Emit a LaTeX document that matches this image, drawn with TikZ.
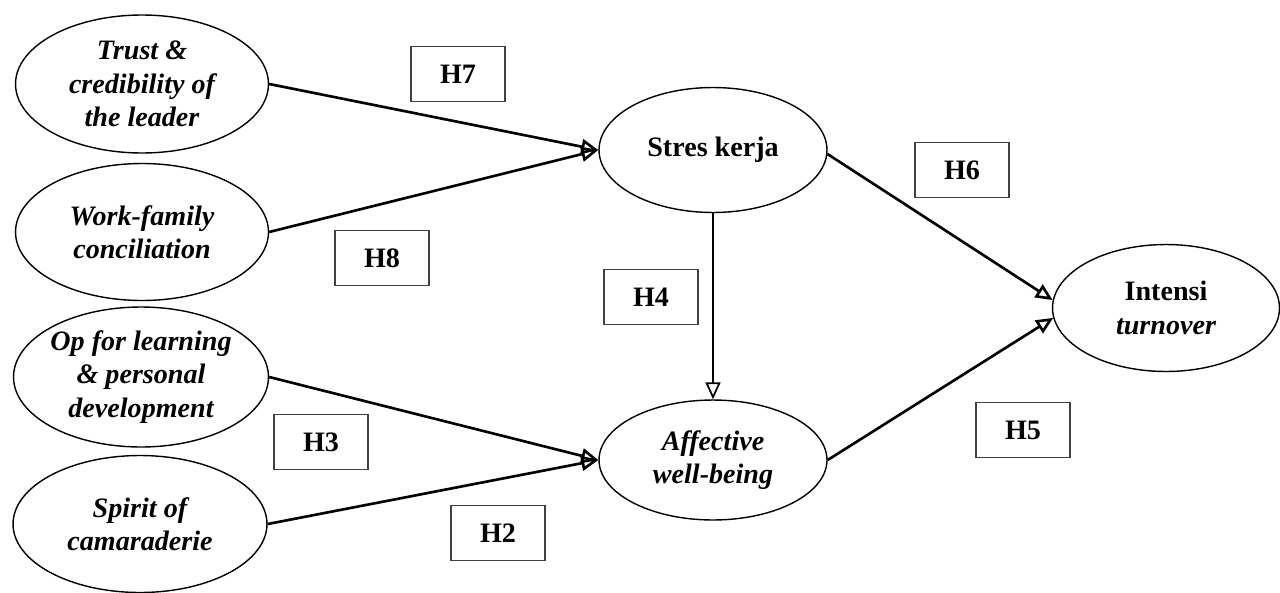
\documentclass[tikz,border=0pt]{standalone}
\usepackage{fontspec}
\setmainfont{Liberation Serif}
\usepackage{tikz}
\usetikzlibrary{arrows.meta,shapes.geometric}

\begin{document}
\begin{tikzpicture}[x=0.02cm, y=-0.02cm,
    every node/.style={font=\fontsize{16}{19}\selectfont\bfseries},
    construct/.style={draw, ellipse, line width=0.8pt, inner xsep=-4pt, inner ysep=0pt, align=center},
    hyp/.style={draw=black!75, line width=1.1pt, minimum width=1.88cm, minimum height=1.1cm},
    path/.style={line width=1.5pt, -{Triangle[open, length=3.4mm, width=3mm]}}]
    \useasboundingbox (0,0) rectangle (1280,592);

    % exogenous constructs
    \node[construct, minimum width=5.06cm, minimum height=2.76cm] (trust) at (142,84) {\itshape Trust \&\\ \itshape credibility of\\ \itshape the leader};
    \node[construct, minimum width=5.06cm, minimum height=2.74cm] (workfam) at (142,232) {\itshape Work-family\\ \itshape conciliation};
    \node[construct, minimum width=5.1cm, minimum height=2.8cm] (learning) at (141,377) {\itshape Op for learning\\ \itshape \& personal\\ \itshape development};
    \node[construct, minimum width=5.08cm, minimum height=2.74cm] (spirit) at (140,524) {\itshape Spirit of\\ \itshape camaraderie};

    % mediators and outcome
    \node[construct, minimum width=4.56cm, minimum height=2.5cm] (stres) at (713,150) {Stres kerja};
    \node[construct, minimum width=4.56cm, minimum height=2.4cm] (affect) at (713,460) {\itshape Affective\\ \itshape well-being};
    \node[construct, minimum width=4.54cm, minimum height=2.54cm] (intensi) at (1166,308) {Intensi\\ \itshape turnover};

    % hypothesis labels
    \node[hyp] (h7) at (458,74) {H7};
    \node[hyp] (h8) at (382,258) {H8};
    \node[hyp] (h6) at (962,170) {H6};
    \node[hyp] (h4) at (651,297) {H4};
    \node[hyp] (h3) at (321,442) {H3};
    \node[hyp] (h5) at (1023,430) {H5};
    \node[hyp] (h2) at (498,533) {H2};

    \draw[path] (trust.east) -- (stres.west);
    \draw[path] (workfam.east) -- (stres.west);
    \draw[path] (learning.east) -- (affect.west);
    \draw[path] (spirit.east) -- (affect.west);
    \draw[path, line width=1pt] (stres.south) -- (affect.north);
    \draw[path] (stres.-2) -- (intensi.176);
    \draw[path] (affect.east) -- (intensi.185);
\end{tikzpicture}
\end{document}
